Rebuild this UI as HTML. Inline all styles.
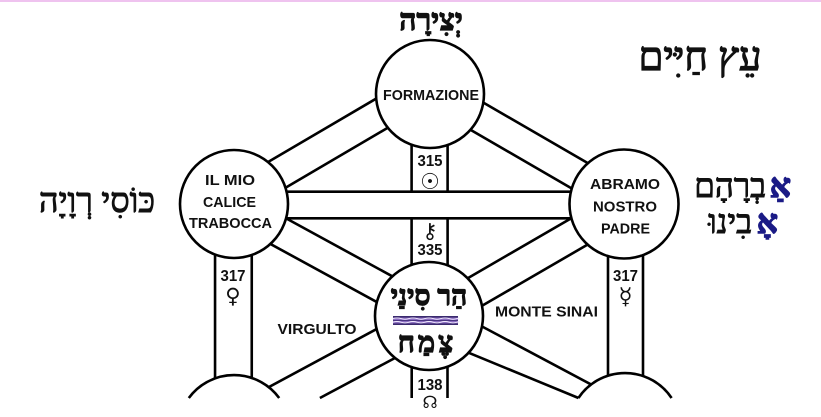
<!DOCTYPE html>
<html>
<head>
<meta charset="utf-8">
<style>
  html, body { margin:0; padding:0; background:#fff; width:821px; height:417px; overflow:hidden; }
  svg { display:block; }
  .lat { font-family:"Liberation Sans", Arial, sans-serif; font-weight:bold; fill:#111; }
  .heb { font-family:"Liberation Serif", "DejaVu Sans", serif; fill:#111; }
  .sym { font-family:"DejaVu Sans", sans-serif; fill:#111; }
</style>
</head>
<body>
<svg width="821" height="417" viewBox="0 0 821 417" xmlns="http://www.w3.org/2000/svg" overflow="hidden">
  <rect x="0" y="0" width="821" height="417" fill="#fff"/>
  <rect x="0" y="0" width="821" height="2" fill="#efc3ef"/>

  <g stroke="#000" stroke-width="2.6" fill="none">
    <line x1="215.05" y1="204" x2="215.05" y2="390"/>
    <line x1="251.75" y1="204" x2="251.75" y2="390"/>
    <line x1="608" y1="204" x2="608" y2="390"/>
    <line x1="643" y1="204" x2="643" y2="390"/>
    <line x1="411.7" y1="316" x2="411.7" y2="398"/>
    <line x1="447.5" y1="316" x2="447.5" y2="398"/>
    <line x1="420" y1="305.7" x2="256" y2="394"/>
    <line x1="430" y1="339.3" x2="319.9" y2="398"/>
    <line x1="440" y1="304.1" x2="609" y2="394"/>
    <line x1="430" y1="336.8" x2="578.5" y2="398"/>
  </g>

  <g fill="none" stroke-linecap="butt">
    <line x1="234" y1="200" x2="430" y2="85" stroke="#000" stroke-width="33.6"/>
    <line x1="234" y1="200" x2="430" y2="85" stroke="#fff" stroke-width="28.4"/>

    <line x1="430" y1="89" x2="625" y2="202" stroke="#000" stroke-width="32.6"/>
    <line x1="430" y1="89" x2="625" y2="202" stroke="#fff" stroke-width="27.4"/>

    <line x1="234" y1="207" x2="430" y2="314" stroke="#000" stroke-width="32.6"/>
    <line x1="234" y1="207" x2="430" y2="314" stroke="#fff" stroke-width="27.4"/>

    <line x1="430" y1="318" x2="625" y2="205" stroke="#000" stroke-width="33.6"/>
    <line x1="430" y1="318" x2="625" y2="205" stroke="#fff" stroke-width="28.4"/>

    <line x1="429.6" y1="94" x2="429.6" y2="316" stroke="#000" stroke-width="38.6"/>
    <line x1="429.6" y1="94" x2="429.6" y2="316" stroke="#fff" stroke-width="33.4"/>

    <line x1="234" y1="205" x2="624" y2="205" stroke="#000" stroke-width="29.2"/>
    <line x1="234" y1="205" x2="624" y2="205" stroke="#fff" stroke-width="24"/>
  </g>

  <g fill="#fff" stroke="#000" stroke-width="2.6">
    <circle cx="430" cy="94" r="54"/>
    <circle cx="234" cy="204" r="54"/>
    <circle cx="624" cy="204" r="54.5"/>
    <circle cx="429" cy="316" r="54"/>
  </g>

  <path d="M188.8 398 A56 56 0 0 1 279.2 398 Z" fill="#fff" stroke="none"/>
  <path d="M188.8 398 A56 56 0 0 1 279.2 398" fill="none" stroke="#000" stroke-width="2.6"/>
  <path d="M578.4 398 A56 56 0 0 1 671.6 398 Z" fill="#fff" stroke="none"/>
  <path d="M578.4 398 A56 56 0 0 1 671.6 398" fill="none" stroke="#000" stroke-width="2.6"/>

  <text class="lat" x="431" y="100" font-size="15" text-anchor="middle" textLength="96" lengthAdjust="spacingAndGlyphs">FORMAZIONE</text>

  <text class="lat" x="230" y="185" font-size="15" text-anchor="middle" textLength="50" lengthAdjust="spacingAndGlyphs">IL MIO</text>
  <text class="lat" x="229.5" y="207" font-size="15" text-anchor="middle" textLength="53" lengthAdjust="spacingAndGlyphs">CALICE</text>
  <text class="lat" x="230.5" y="228" font-size="15" text-anchor="middle" textLength="83" lengthAdjust="spacingAndGlyphs">TRABOCCA</text>

  <text class="lat" x="625" y="189" font-size="15" text-anchor="middle" textLength="70" lengthAdjust="spacingAndGlyphs">ABRAMO</text>
  <text class="lat" x="625" y="211.5" font-size="15" text-anchor="middle" textLength="64" lengthAdjust="spacingAndGlyphs">NOSTRO</text>
  <text class="lat" x="625.5" y="233.5" font-size="15" text-anchor="middle" textLength="49" lengthAdjust="spacingAndGlyphs">PADRE</text>

  <text class="lat" x="317" y="334" font-size="15" text-anchor="middle" textLength="79" lengthAdjust="spacingAndGlyphs">VIRGULTO</text>
  <text class="lat" x="546.5" y="316.5" font-size="15" text-anchor="middle" textLength="103" lengthAdjust="spacingAndGlyphs">MONTE SINAI</text>

  <text class="lat" x="430" y="166" font-size="16" text-anchor="middle" textLength="25" lengthAdjust="spacingAndGlyphs">315</text>
  <text class="lat" x="430" y="255" font-size="16" text-anchor="middle" textLength="25" lengthAdjust="spacingAndGlyphs">335</text>
  <text class="lat" x="233" y="281" font-size="16" text-anchor="middle" textLength="25" lengthAdjust="spacingAndGlyphs">317</text>
  <text class="lat" x="625.5" y="281" font-size="16" text-anchor="middle" textLength="25" lengthAdjust="spacingAndGlyphs">317</text>
  <text class="lat" x="430" y="390" font-size="16" text-anchor="middle" textLength="25" lengthAdjust="spacingAndGlyphs">138</text>

  <text class="sym" x="430" y="189" font-size="22" text-anchor="middle">☉</text>
  <text class="sym" x="430" y="238" font-size="21" text-anchor="middle">⚷</text>
  <text class="sym" x="233" y="303" font-size="21" text-anchor="middle">♀</text>
  <text class="sym" x="625.5" y="304" font-size="23" text-anchor="middle">☿</text>
  <text class="sym" x="430" y="408" font-size="17" text-anchor="middle">☊</text>

  <text class="heb" x="431" y="30" font-size="30" font-weight="bold" text-anchor="middle" stroke="#111" stroke-width="1.2">יְצִירָה</text>
  <text class="heb" x="700" y="70" font-size="40" text-anchor="middle" stroke="#111" stroke-width="1.2">עֵץ חַיִּים</text>
  <text class="heb" x="97" y="212" font-size="34" text-anchor="middle" stroke="#111" stroke-width="1">כּוֹסִי רְוָיָה</text>

  <text class="heb" x="791" y="197" font-size="33" font-weight="bold" text-anchor="end" style="fill:#1b1b86" stroke="#1b1b86" stroke-width="1.4">אַ</text>
  <text class="heb" x="766" y="197" font-size="33" text-anchor="end" stroke="#111" stroke-width="1">בְרָהָם</text>
  <text class="heb" x="778" y="233" font-size="33" font-weight="bold" text-anchor="end" style="fill:#1b1b86" stroke="#1b1b86" stroke-width="1.4">אָ</text>
  <text class="heb" x="752" y="233" font-size="33" text-anchor="end" stroke="#111" stroke-width="1">בִינוּ</text>

  <text class="heb" x="429" y="305" font-size="28" font-weight="bold" text-anchor="middle" stroke="#111" stroke-width="1.2">הַר סִינַי</text>
  <text class="heb" x="427" y="352" font-size="29" font-weight="bold" text-anchor="middle" letter-spacing="3" stroke="#111" stroke-width="1.2">צֶמַח</text>

  <rect x="393" y="316" width="65" height="9" fill="#8a6cc0"/>
  <rect x="393" y="316" width="65" height="1.6" fill="#3a2a6e"/>
  <rect x="393" y="320" width="65" height="1" fill="#4b3682"/>
  <rect x="393" y="323.4" width="65" height="1.6" fill="#3a2a6e"/>
  <path d="M393 318.6 q4 -1.4 8 0 t8 0 t8 0 t8 0 t8 0 t8 0 t8 0 t8 0 t1 0" fill="none" stroke="#f2ecff" stroke-width="0.9"/>
  <path d="M393 322.2 q4 -1.4 8 0 t8 0 t8 0 t8 0 t8 0 t8 0 t8 0 t8 0 t1 0" fill="none" stroke="#f2ecff" stroke-width="0.9"/>
</svg>
</body>
</html>
